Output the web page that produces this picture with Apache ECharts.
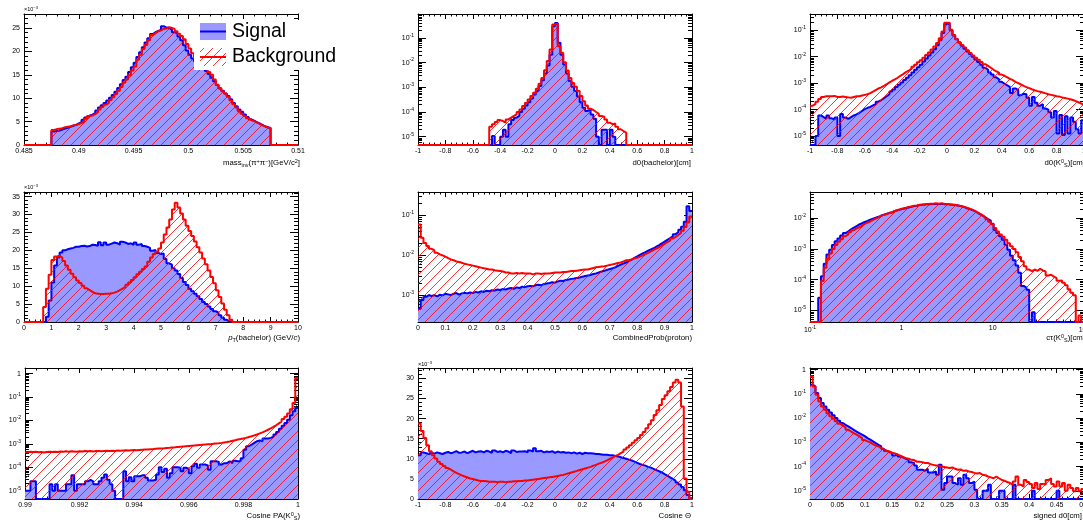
<!DOCTYPE html>
<html>
<head>
<meta charset="utf-8">
<script src="https://cdn.jsdelivr.net/npm/echarts@6.0.0/dist/echarts.min.js"></script>
<style>
  html, body { margin: 0; padding: 0; background: #fff; }
  #chart { width: 1083px; height: 525px; }
</style>
</head>
<body>
<div id="chart"></div>
<script>
// ---------------- histogram contents (100 bins per panel) ----------------

// mass_inv(pi+ pi-), units of 1e-3, first stored bin = 10
const massFirstBin = 10;
const massSig = [2.9,3.0,3.1,3.3,3.5,3.7,3.9,4.1,4.3,4.6, 4.9,5.4,5.9,6.3,6.5,6.9,7.4,8.0,8.5,9.0,
  9.5,10.1,10.7,11.4,12.2,13.0,13.9,14.6,15.6,16.6, 17.6,18.8,19.8,20.9,21.9,22.8,23.7,24.1,24.4,24.6,
  25.4,25.1,25.0,24.6,24.1,23.9,23.2,22.4,21.3,20.2, 19.3,18.5,17.9,17.4,17.0,16.4,15.8,15.2,14.4,13.6,
  12.8,12.1,11.6,11.0,10.5,9.8,9.0,8.3,7.6,7.1, 6.5,6.0,5.5,5.2,4.9,4.6,4.3,4.0,3.8,3.6];
const massBkg = [3.2,3.4,3.5,3.6,3.8,3.9,4.0,4.2,4.3,4.5, 4.7,5.0,5.6,6.2,6.3,6.6,7.0,7.6,8.1,8.6,
  9.0,9.6,10.2,10.9,11.6,12.4,13.3,14.0,14.9,15.9, 16.8,18.2,19.3,20.5,21.4,22.4,23.5,23.9,24.3,24.5,
  24.8,24.9,25.2,25.0,24.8,24.3,23.8,23.3,22.6,21.6, 20.6,19.6,18.6,18.0,17.4,16.9,16.3,15.6,15.0,14.0,
  12.9,12.2,11.5,11.0,10.3,9.5,8.7,8.0,7.2,6.7, 6.2,5.7,5.3,5.1,4.8,4.5,4.2,4.0,3.7,3.7];

// d0(bachelor)
const d0BachSigFirst = 27;
const d0BachSig = [1.07e-5,0,0,1.0e-5,1.9e-5,1.0e-5,3.2e-5,4.7e-5,5.9e-5,6.9e-5,
  1.0e-4,1.35e-4,1.85e-4,2.5e-4,3.5e-4,5.1e-4,7.0e-4,1.12e-3,1.95e-3,3.6e-3,
  7.6e-3,0.021,0.30,0.40,0.063,0.021,8.4e-3,3.6e-3,1.8e-3,1.05e-3,
  7.0e-4,4.2e-4,2.5e-4,1.5e-4,1.1e-4,1.26e-4,8.0e-5,5.3e-5,1.0e-5,0,
  1.9e-5,1.9e-5,0,1.9e-5,1.0e-5];
const d0BachBkgFirst = 26;
const d0BachBkg = [2.5e-5,3.2e-5,3.9e-5,4.7e-5,4.3e-5,3.7e-5,5.0e-5,5.9e-5,6.9e-5,8.0e-5,
  1.0e-4,1.26e-4,1.73e-4,2.3e-4,3.2e-4,4.4e-4,6.0e-4,8.7e-4,1.4e-3,2.4e-3,
  4.9e-3,0.0115,0.034,0.35,0.38,0.046,0.025,0.0104,4.8e-3,2.4e-3,
  1.5e-3,1.05e-3,7.0e-4,4.4e-4,2.7e-4,1.85e-4,1.35e-4,1.2e-4,1.0e-4,8.5e-5,
  6.9e-5,6.5e-5,5.0e-5,3.7e-5,3.2e-5,3.4e-5,2.5e-5,2.0e-5,1.7e-5,1.45e-5];

// d0(K0S)
const d0K0Sig = [0,0,1.0e-5,6.0e-5,5.2e-5,4.5e-5,6.0e-5,4.7e-5,4.2e-5,5.0e-5,
  1.0e-5,6.9e-5,5.0e-5,4.5e-5,5.2e-5,6.0e-5,6.6e-5,7.6e-5,8.9e-5,1.05e-4,
  1.17e-4,1.26e-4,1.45e-4,1.66e-4,2.0e-4,2.3e-4,2.7e-4,3.2e-4,3.8e-4,4.8e-4,
  5.8e-4,7.1e-4,8.7e-4,1.05e-3,1.32e-3,1.6e-3,2.0e-3,2.5e-3,3.2e-3,4.0e-3,
  5.0e-3,6.6e-3,8.5e-3,0.011,0.0145,0.019,0.027,0.042,0.079,0.17,
  0.18,0.10,0.063,0.046,0.034,0.026,0.020,0.0158,0.0126,0.010,
  7.9e-3,6.3e-3,5.0e-3,3.8e-3,3.2e-3,2.5e-3,2.1e-3,1.66e-3,1.4e-3,1.12e-3,
  9.5e-4,8.3e-4,7.1e-4,4.2e-4,6.3e-4,5.6e-4,3.5e-4,4.0e-4,3.8e-4,2.8e-4,
  1.4e-4,3.0e-4,1.8e-4,1.4e-4,1.6e-4,1.1e-4,1.0e-4,7.9e-5,5.0e-5,8.9e-5,
  1.26e-5,6.3e-5,1.1e-5,5.6e-5,1.26e-5,5.0e-5,3.5e-5,1.8e-5,1.26e-5,4.0e-5];
const d0K0Bkg = [1.4e-4,1.6e-4,2.0e-4,2.5e-4,3.0e-4,3.2e-4,3.2e-4,3.2e-4,3.3e-4,3.0e-4,
  3.0e-4,3.1e-4,3.0e-4,2.9e-4,2.8e-4,3.0e-4,3.2e-4,3.2e-4,3.4e-4,3.6e-4,
  3.8e-4,4.2e-4,4.8e-4,5.5e-4,6.3e-4,6.9e-4,7.9e-4,9.1e-4,1.07e-3,1.23e-3,
  1.38e-3,1.6e-3,1.9e-3,2.2e-3,2.6e-3,3.0e-3,3.5e-3,4.2e-3,5.0e-3,6.2e-3,
  7.4e-3,9.1e-3,0.0115,0.0145,0.0186,0.024,0.033,0.050,0.089,0.19,
  0.19,0.105,0.066,0.047,0.035,0.0275,0.022,0.0174,0.0138,0.0112,
  9.1e-3,7.6e-3,6.3e-3,5.2e-3,4.5e-3,3.8e-3,3.2e-3,2.8e-3,2.5e-3,2.1e-3,
  1.9e-3,1.66e-3,1.45e-3,1.29e-3,1.12e-3,1.0e-3,8.9e-4,7.9e-4,7.1e-4,6.5e-4,
  5.9e-4,5.4e-4,5.0e-4,4.7e-4,4.4e-4,4.1e-4,3.8e-4,3.6e-4,3.4e-4,3.2e-4,
  3.1e-4,2.9e-4,2.75e-4,2.6e-4,2.45e-4,2.3e-4,2.1e-4,1.9e-4,1.7e-4,1.5e-4];

// pT(bachelor), units of 1e-3
const ptSigFirst = 8;
const ptSig = [1.5,6.0,11.0,15.8,18.0,19.4,20.0,20.3,20.5,20.7,
  21.0,21.0,21.2,21.3,21.1,21.2,21.6,21.5,21.3,22.3,
  21.4,22.2,21.6,21.9,22.2,22.0,21.6,22.4,22.2,21.8,
  22.0,21.5,22.2,21.6,21.8,21.2,21.0,20.7,19.9,20.1,
  19.3,19.0,19.1,17.6,16.4,16.0,15.0,14.4,13.4,12.3,
  11.2,10.3,9.3,8.6,7.9,7.2,6.4,5.6,5.0,4.3,
  3.6,3.0,2.6,1.9,1.2,0.6,0.2];
const ptBkgFirst = 7;
const ptBkg = [4.2,9.3,13.2,17.3,18.3,18.5,18.0,17.0,15.8,14.6,
  13.5,12.5,11.6,10.9,10.1,9.4,8.9,8.4,8.0,7.9,
  7.8,7.8,7.9,7.9,8.0,8.2,8.5,8.9,9.3,9.8,
  10.4,11.0,11.7,12.5,13.3,14.0,14.8,15.5,16.8,18.0,
  19.0,19.6,20.5,22.2,24.4,26.4,28.6,31.4,33.3,32.0,
  30.3,28.6,26.9,25.4,24.0,22.5,20.9,19.4,17.7,16.1,
  14.4,12.6,10.8,8.9,7.0,5.2,3.4,1.9,0.6];

// CombinedProb(proton)
const probSig = [4.5e-4,7.5e-4,9.0e-4,1.0e-3,9.4e-4,1.0e-3,9.2e-4,1.02e-3,9.8e-4,1.08e-3,
  1.04e-3,1.0e-3,1.08e-3,1.12e-3,1.02e-3,1.1e-3,1.14e-3,1.1e-3,1.16e-3,1.12e-3,
  1.2e-3,1.16e-3,1.24e-3,1.2e-3,1.28e-3,1.25e-3,1.32e-3,1.3e-3,1.38e-3,1.34e-3,
  1.42e-3,1.38e-3,1.46e-3,1.5e-3,1.44e-3,1.56e-3,1.5e-3,1.62e-3,1.58e-3,1.66e-3,
  1.7e-3,1.66e-3,1.78e-3,1.82e-3,1.76e-3,1.9e-3,1.95e-3,2.0e-3,2.1e-3,2.05e-3,
  2.2e-3,2.3e-3,2.25e-3,2.4e-3,2.45e-3,2.55e-3,2.6e-3,2.7e-3,2.75e-3,2.9e-3,
  3.0e-3,3.1e-3,3.2e-3,3.4e-3,3.5e-3,3.7e-3,3.9e-3,4.1e-3,4.3e-3,4.5e-3,
  4.7e-3,5.0e-3,5.4e-3,5.8e-3,6.2e-3,6.6e-3,7.2e-3,7.8e-3,8.6e-3,9.4e-3,
  0.0103,0.0112,0.012,0.013,0.014,0.015,0.0165,0.018,0.020,0.022,
  0.0245,0.027,0.030,0.034,0.038,0.044,0.052,0.070,0.17,0.13];
const probBkg = [0.059,0.0275,0.0204,0.017,0.0145,0.0132,0.0115,0.0105,0.0099,0.0092,
  0.0085,0.0079,0.0075,0.0070,0.0068,0.0065,0.0061,0.0059,0.0057,0.0055,
  0.0053,0.0051,0.0049,0.0047,0.0046,0.0044,0.0044,0.0042,0.0041,0.0040,
  0.0039,0.0037,0.0037,0.0035,0.0035,0.0036,0.0035,0.0036,0.0035,0.0035,
  0.0035,0.0033,0.0035,0.0035,0.0034,0.0035,0.0035,0.0035,0.0036,0.0037,
  0.0037,0.0037,0.0038,0.0038,0.0039,0.0040,0.0040,0.0041,0.0042,0.0043,
  0.0044,0.0044,0.0046,0.0048,0.0050,0.0051,0.0052,0.0053,0.0055,0.0057,
  0.0059,0.0061,0.0064,0.0066,0.0070,0.0075,0.0076,0.0079,0.0084,0.0087,
  0.0092,0.0099,0.0107,0.0115,0.0125,0.0137,0.0148,0.0160,0.0176,0.0194,
  0.0213,0.0234,0.0263,0.029,0.0324,0.0363,0.0415,0.0513,0.067,0.094];

// c*tau(K0S), log-spaced bins from 0.1 to 100 cm
const ctauSigFirst = 3;
const ctauSig = [2.6e-5,1.3e-4,3.3e-4,6.6e-4,9.5e-4,1.35e-3,1.8e-3,2.2e-3,2.75e-3,3.3e-3,
  3.8e-3,4.4e-3,5.0e-3,5.6e-3,6.3e-3,6.9e-3,7.6e-3,8.2e-3,9.1e-3,9.8e-3,
  0.0105,0.0112,0.0123,0.0132,0.0141,0.0151,0.0158,0.0174,0.0182,0.0195,
  0.0204,0.0214,0.0224,0.024,0.025,0.0257,0.027,0.0275,0.028,0.029,
  0.029,0.0295,0.0295,0.029,0.0295,0.029,0.029,0.028,0.0275,0.027,
  0.026,0.025,0.024,0.0218,0.0204,0.019,0.0174,0.0155,0.0138,0.0123,
  0.0108,9.5e-3,8.4e-3,6.6e-3,4.2e-3,3.3e-3,2.6e-3,2.0e-3,1.38e-3,9.5e-4,
  6.0e-4,4.3e-4,2.9e-4,1.7e-4,6.3e-5,5.5e-5,4.7e-5,0,8.7e-6,0];
const ctauBkgFirst = 4;
const ctauBkg = [9.1e-5,2.45e-4,4.8e-4,7.1e-4,1.0e-3,1.35e-3,1.74e-3,2.1e-3,2.6e-3,3.0e-3,
  3.5e-3,4.1e-3,4.7e-3,5.1e-3,5.8e-3,6.6e-3,7.2e-3,7.9e-3,8.9e-3,9.8e-3,
  0.0107,0.012,0.0129,0.0138,0.0148,0.0158,0.0174,0.0186,0.020,0.021,
  0.022,0.0234,0.0245,0.0257,0.026,0.0275,0.028,0.029,0.0295,0.030,
  0.030,0.031,0.030,0.031,0.030,0.0295,0.029,0.028,0.0275,0.026,
  0.025,0.024,0.0224,0.021,0.0195,0.0178,0.0158,0.0141,0.0126,0.011,
  9.3e-3,7.8e-3,6.4e-3,4.8e-3,3.7e-3,3.0e-3,2.5e-3,2.0e-3,1.55e-3,1.23e-3,
  1.0e-3,7.8e-4,5.5e-4,4.0e-4,2.75e-4,2.15e-4,1.9e-4,2.15e-4,1.95e-4,2.25e-4,
  2.0e-4,1.85e-4,1.38e-4,1.45e-4,1.26e-4,1.12e-4,9.3e-5,9.5e-5,7.9e-5,6.6e-5,
  4.9e-5,3.8e-5,3.1e-5,0,6.8e-6];

// Cosine PA(K0S)
const cosPaSig = [1.0e-5,1.0e-5,2.5e-5,2.5e-5,0,0,0,0,0,1.9e-5,
  1.0e-5,1.9e-5,1.0e-5,1.0e-5,1.0e-5,1.9e-5,1.9e-5,4.5e-5,1.0e-5,1.9e-5,
  1.9e-5,1.9e-5,2.5e-5,2.9e-5,2.5e-5,1.9e-5,1.9e-5,2.5e-5,3.6e-5,4.9e-5,
  2.9e-5,1.9e-5,1.0e-5,0,0,0,6.7e-5,2.5e-5,3.7e-5,2.5e-5,
  4.1e-5,4.1e-5,4.5e-5,4.5e-5,3.6e-5,2.7e-5,2.7e-5,2.9e-5,4.9e-5,1.0e-4,
  6.3e-5,8.6e-5,3.6e-5,5.6e-5,1.0e-4,1.0e-4,9.5e-5,6.7e-5,9.5e-5,8.6e-5,
  5.6e-5,1.1e-4,1.4e-4,9.5e-5,1.3e-4,1.3e-4,1.2e-4,7.9e-5,1.8e-4,1.8e-4,
  1.7e-4,1.3e-4,1.5e-4,1.5e-4,1.8e-4,1.5e-4,1.9e-4,1.8e-4,1.8e-4,2.4e-4,
  5.6e-4,7.9e-4,9.3e-4,1.1e-3,1.3e-3,1.4e-3,1.3e-3,1.7e-3,1.7e-3,1.8e-3,
  2.0e-3,2.5e-3,3.2e-3,4.4e-3,6.0e-3,7.8e-3,0.0108,0.0166,0.0245,0.034];
const cosPaBkg = [4.4e-4,4.6e-4,4.5e-4,4.6e-4,4.4e-4,4.5e-4,4.3e-4,4.5e-4,4.6e-4,4.5e-4,
  4.6e-4,4.5e-4,4.7e-4,4.6e-4,4.8e-4,4.6e-4,4.8e-4,4.7e-4,4.6e-4,4.8e-4,
  4.7e-4,4.9e-4,4.8e-4,4.9e-4,4.7e-4,4.9e-4,5.0e-4,4.8e-4,5.0e-4,5.1e-4,
  5.0e-4,5.1e-4,5.0e-4,5.2e-4,5.1e-4,5.2e-4,5.3e-4,5.2e-4,5.3e-4,5.4e-4,
  5.3e-4,5.5e-4,5.6e-4,5.7e-4,5.8e-4,5.9e-4,6.0e-4,6.2e-4,6.3e-4,6.4e-4,
  6.5e-4,6.7e-4,6.8e-4,7.0e-4,7.1e-4,7.3e-4,7.5e-4,7.7e-4,7.9e-4,8.1e-4,
  8.3e-4,8.5e-4,8.7e-4,8.9e-4,9.1e-4,9.3e-4,9.5e-4,9.7e-4,1.0e-3,1.03e-3,
  1.06e-3,1.1e-3,1.15e-3,1.2e-3,1.27e-3,1.35e-3,1.43e-3,1.52e-3,1.6e-3,1.7e-3,
  1.8e-3,1.95e-3,2.1e-3,2.3e-3,2.5e-3,2.8e-3,3.1e-3,3.5e-3,4.0e-3,4.6e-3,
  5.3e-3,6.2e-3,7.5e-3,9.0e-3,0.0115,0.0145,0.02,0.03,0.056,0.65];

// Cosine Theta, units of 1e-3
const cosThetaSig = [10.9,11.6,11.4,11.2,11.5,11.3,11.6,11.4,11.2,11.5,
  11.7,11.4,11.6,11.9,11.5,11.6,11.8,11.4,11.7,12.0,
  11.6,11.8,11.9,11.6,12.0,11.8,11.5,12.1,11.7,11.9,
  11.6,12.0,11.8,11.4,12.1,11.7,11.8,11.8,11.9,11.6,
  12.1,11.8,12.6,11.9,12.0,11.6,11.8,11.7,11.9,11.5,
  11.8,11.6,11.7,11.5,11.6,11.4,11.6,11.3,11.5,11.2,
  11.5,11.4,11.4,11.3,11.2,11.2,11.1,11.0,11.0,10.9,
  10.9,10.7,10.6,10.4,10.2,10.0,9.8,9.6,9.3,9.0,
  8.7,8.5,8.3,8.0,7.8,7.5,7.2,6.9,6.6,6.2,
  5.8,5.4,5.0,4.6,4.1,3.6,3.0,2.2,1.0,0.2];
const cosThetaBkg = [18.8,16.9,15.2,13.4,11.9,10.9,10.1,9.3,8.7,8.2,
  7.7,7.3,6.9,6.5,6.2,5.9,5.6,5.4,5.1,5.0,
  4.8,4.6,4.5,4.5,4.4,4.3,4.3,4.3,4.2,4.3,
  4.3,4.2,4.3,4.3,4.4,4.4,4.5,4.5,4.6,4.6,
  4.7,4.8,4.9,5.0,5.1,5.2,5.3,5.4,5.5,5.6,
  5.7,5.9,6.0,6.2,6.4,6.6,6.8,7.0,7.2,7.4,
  7.6,7.8,8.0,8.3,8.5,8.8,9.0,9.3,9.6,10.0,
  10.3,10.7,11.0,11.4,11.8,12.3,12.8,13.4,14.0,14.6,
  15.2,15.9,16.7,17.6,18.6,19.6,20.9,22.1,23.4,24.9,
  25.8,26.8,27.9,29.0,29.7,29.0,23.0,5.1,1.8,0];

// signed d0
const signedD0Sig = [0.24,0.20,0.11,0.068,0.042,0.030,0.022,0.017,0.013,0.010,
  0.0078,0.0063,0.0053,0.0046,0.0039,0.0033,0.0028,0.0024,0.0021,0.0018,
  1.5e-3,1.3e-3,1.1e-3,9.3e-4,7.9e-4,6.8e-4,5.5e-4,4.5e-4,4.0e-4,3.6e-4,
  2.9e-4,3.3e-4,2.6e-4,2.4e-4,2.1e-4,1.9e-4,1.5e-4,1.4e-4,1.1e-4,7.4e-5,
  7.4e-5,6.7e-5,8.1e-5,5.7e-5,5.7e-5,6.3e-5,4.6e-5,1.2e-4,1.1e-5,2.1e-5,
  3.9e-5,3.9e-5,2.1e-5,1.8e-5,3.3e-5,1.8e-5,4.6e-5,3.3e-5,2.1e-5,2.4e-5,
  1.1e-5,0,0,1.0e-5,1.0e-5,1.8e-5,0,0,0,1.0e-5,
  1.0e-5,0,0,0,1.8e-5,0,0,0,0,0,
  0,1.0e-5,0,0,0,0,0,0,0,0,
  1.0e-5,0,0,0,0,0,0,0,0,0];
const signedD0Bkg = [0.53,0.20,0.093,0.049,0.030,0.022,0.016,0.012,0.0095,0.0074,
  0.0059,0.0049,0.0041,0.0033,0.0028,0.0024,0.0021,0.0018,0.0015,0.00124,
  1.1e-3,1.0e-3,8.5e-4,7.4e-4,6.8e-4,5.8e-4,5.1e-4,4.5e-4,4.2e-4,3.7e-4,
  3.5e-4,3.1e-4,2.8e-4,2.5e-4,2.2e-4,2.1e-4,1.9e-4,1.85e-4,1.6e-4,1.6e-4,
  1.5e-4,1.4e-4,1.4e-4,1.26e-4,1.18e-4,1.1e-4,1.1e-4,1.0e-4,9.7e-5,9.2e-5,
  8.7e-5,9.2e-5,8.1e-5,7.4e-5,7.6e-5,6.7e-5,6.9e-5,6.3e-5,6.0e-5,5.5e-5,
  5.2e-5,5.4e-5,4.6e-5,4.4e-5,3.9e-5,3.6e-5,3.3e-5,3.9e-5,3.3e-5,2.8e-5,
  2.6e-5,2.3e-5,2.1e-5,1.8e-5,2.4e-5,3.9e-5,1.8e-5,1.5e-5,2.8e-5,2.3e-5,
  1.9e-5,1.3e-5,2.1e-5,1.2e-5,1.9e-5,1.8e-5,2.8e-5,3.3e-5,1.9e-5,1.5e-5,
  2.4e-5,1.5e-5,2.1e-5,1.0e-5,1.8e-5,1.3e-5,9.5e-6,1.3e-5,9.5e-6,1.2e-5];

// ---------------- axis tick labels ----------------
const massXTicks = [0.485, 0.49, 0.495, 0.5, 0.505, 0.51];
const massYTicks = [0, 5, 10, 15, 20, 25];
const d0XTicks = [-1, -0.8, -0.6, -0.4, -0.2, 0, 0.2, 0.4, 0.6, 0.8, 1];
const d0YTicks = [1e-5, 1e-4, 1e-3, 1e-2, 1e-1];
const ptXTicks = [0, 1, 2, 3, 4, 5, 6, 7, 8, 9, 10];
const ptYTicks = [0, 5, 10, 15, 20, 25, 30, 35];
const probXTicks = [0, 0.1, 0.2, 0.3, 0.4, 0.5, 0.6, 0.7, 0.8, 0.9, 1];
const probYTicks = [1e-3, 1e-2, 1e-1];
const ctauXTicks = [0.1, 1, 10, 100];
const ctauYTicks = [1e-5, 1e-4, 1e-3, 1e-2];
const cosPaXTicks = [0.99, 0.992, 0.994, 0.996, 0.998, 1];
const cosPaYTicks = [1e-5, 1e-4, 1e-3, 1e-2, 1e-1, 1];
const cosThetaYTicks = [0, 5, 10, 15, 20, 25, 30];
const signedD0XTicks = [0, 0.05, 0.1, 0.15, 0.2, 0.25, 0.3, 0.35, 0.4, 0.45, 0.5];
const signedD0YTicks = [1e-5, 1e-4, 1e-3, 1e-2, 1e-1, 1];

// ---------------- styling ----------------
const FONT = 'Liberation Sans';
const SIG_LINE = '#0000ff';
const SIG_FILL = '#9999ff';
const BKG_LINE = '#ff0000';

function makeHatch() {
  const s = 9;
  const c = document.createElement('canvas');
  c.width = s; c.height = s;
  const g = c.getContext('2d');
  g.strokeStyle = 'rgba(255,0,0,0.8)';
  g.lineWidth = 1;
  for (const d of [-s, 0, s]) {
    g.beginPath();
    g.moveTo(d - 1, s + 1);
    g.lineTo(d + s + 1, -1);
    g.stroke();
  }
  return c;
}
const HATCH = { image: makeHatch(), repeat: 'repeat' };

const panels = [
  { left: 24, top: 14, height: 131,
    x: { min: 0.485, max: 0.51, majors: massXTicks, minorStep: 0.001 },
    y: { min: 0, max: 28, majors: massYTicks, minorStep: 1 },
    bins: { lo: 0.485, hi: 0.51, n: 100 },
    sig: [massFirstBin, massSig], bkg: [massFirstBin, massBkg] },
  { left: 418, top: 14, height: 131,
    x: { min: -1, max: 1, majors: d0XTicks, minorStep: 0.04 },
    y: { log: true, min: 4.6e-6, max: 0.93, majors: d0YTicks },
    bins: { lo: -1, hi: 1, n: 100 },
    sig: [d0BachSigFirst, d0BachSig], bkg: [d0BachBkgFirst, d0BachBkg] },
  { left: 810, top: 14, height: 131,
    x: { min: -1, max: 1, majors: d0XTicks, minorStep: 0.04 },
    y: { log: true, min: 4.6e-6, max: 0.41, majors: d0YTicks },
    bins: { lo: -1, hi: 1, n: 100 },
    sig: [0, d0K0Sig], bkg: [0, d0K0Bkg] },
  { left: 24, top: 192, height: 130,
    x: { min: 0, max: 10, majors: ptXTicks, minorStep: 0.2 },
    y: { min: 0, max: 36.3, majors: ptYTicks, minorStep: 1 },
    bins: { lo: 0, hi: 10, n: 100 },
    sig: [ptSigFirst, ptSig], bkg: [ptBkgFirst, ptBkg] },
  { left: 418, top: 192, height: 130,
    x: { min: 0, max: 1, majors: probXTicks, minorStep: 0.02 },
    y: { log: true, min: 2.1e-4, max: 0.39, majors: probYTicks },
    bins: { lo: 0, hi: 1, n: 100 },
    sig: [0, probSig], bkg: [0, probBkg] },
  { left: 810, top: 192, height: 130,
    x: { log: true, min: 0.1, max: 100, majors: ctauXTicks },
    y: { log: true, min: 4.2e-6, max: 0.072, majors: ctauYTicks },
    bins: { lo: 0.1, hi: 100, n: 100, log: true },
    sig: [ctauSigFirst, ctauSig], bkg: [ctauBkgFirst, ctauBkg] },
  { left: 25, top: 368, height: 131, width: 273,
    x: { min: 0.99, max: 1, majors: cosPaXTicks, minorStep: 0.0004 },
    y: { log: true, min: 4.4e-6, max: 1.74, majors: cosPaYTicks },
    bins: { lo: 0.99, hi: 1, n: 100 },
    sig: [0, cosPaSig], bkg: [0, cosPaBkg] },
  { left: 418, top: 368, height: 131,
    x: { min: -1, max: 1, majors: d0XTicks, minorStep: 0.04 },
    y: { min: 0, max: 32.6, majors: cosThetaYTicks, minorStep: 1 },
    bins: { lo: -1, hi: 1, n: 100 },
    sig: [0, cosThetaSig], bkg: [0, cosThetaBkg] },
  { left: 810, top: 368, height: 131,
    x: { min: 0, max: 0.5, majors: signedD0XTicks, minorStep: 0.01 },
    y: { log: true, min: 4.6e-6, max: 1.17, majors: signedD0YTicks },
    bins: { lo: 0, hi: 0.5, n: 100 },
    sig: [0, signedD0Sig], bkg: [0, signedD0Bkg] }
];

// ---------------- helpers ----------------
function linMinors(min, max, step) {
  const out = [];
  const k0 = Math.ceil(min / step - 1e-7), k1 = Math.floor(max / step + 1e-7);
  for (let k = k0; k <= k1; k++) out.push(+(k * step).toFixed(10));
  return out;
}
function logMinors(min, max) {
  const out = [];
  for (let p = Math.floor(Math.log10(min)); p <= Math.ceil(Math.log10(max)); p++) {
    for (let m = 2; m <= 9; m++) {
      const v = m * Math.pow(10, p);
      if (v >= min && v <= max) out.push(v);
    }
  }
  return out;
}
function numLabel(v) { return String(+(+v).toFixed(6)); }
function powLabel(v) {
  const e = Math.round(Math.log10(v));
  if (e === 0) return '1';
  if (e === 1) return '10';
  return '{b|10}{e|' + e + '}';
}
const AXIS_RICH = {
  b: { fontSize: 7, fontFamily: FONT, color: '#000' },
  e: { fontSize: 5, fontFamily: FONT, color: '#000', padding: [0, 0, 5, 0] }
};

function makeAxis(g, s, position, vertical, major, labelled) {
  const minors = s.log ? logMinors(s.min, s.max) : linMinors(s.min, s.max, s.minorStep);
  const len = vertical ? (major ? 8 : 4) : (major ? 5 : 2.5);
  return {
    gridIndex: g,
    type: s.log ? 'log' : 'value',
    logBase: 10,
    min: s.min, max: s.max,
    position: position,
    axisLine: { show: major, onZero: false, lineStyle: { color: '#000', width: 1 } },
    axisTick: { show: true, inside: true, length: len,
      customValues: major ? s.majors : minors,
      lineStyle: { color: '#000', width: 1 } },
    axisLabel: labelled ? {
      show: true, customValues: s.majors,
      formatter: s.log ? powLabel : numLabel,
      margin: vertical ? 4 : 3, fontSize: 7, fontFamily: FONT, color: '#000',
      rich: AXIS_RICH
    } : { show: false },
    splitLine: { show: false }, splitArea: { show: false },
    minorTick: { show: false }, minorSplitLine: { show: false },
    silent: true
  };
}

function binEdge(b, i) {
  return b.log ? b.lo * Math.pow(b.hi / b.lo, i / b.n) : b.lo + (b.hi - b.lo) * i / b.n;
}
function histData(b, first, vals, floor) {
  const pts = [];
  let last = floor;
  for (let i = 0; i < b.n; i++) {
    const k = i - first;
    const v = (k >= 0 && k < vals.length) ? vals[k] : 0;
    last = Math.max(v, floor);
    pts.push([binEdge(b, i), last]);
  }
  pts.push([binEdge(b, b.n), last]);
  return pts;
}
function histSeries(idx, p, h, floor, isBkg) {
  return {
    type: 'line', name: isBkg ? 'Background' : 'Signal',
    xAxisIndex: idx, yAxisIndex: idx,
    data: histData(p.bins, h[0], h[1], floor),
    step: 'end', symbol: 'none', showSymbol: false,
    lineStyle: { color: isBkg ? BKG_LINE : SIG_LINE, width: 2 },
    itemStyle: { color: isBkg ? BKG_LINE : SIG_LINE },
    areaStyle: { color: isBkg ? HATCH : SIG_FILL, opacity: 1, origin: 'start' },
    emphasis: { disabled: true }, silent: true, clip: true,
    z: isBkg ? 3 : 2
  };
}

const grids = [], xAxes = [], yAxes = [], series = [];
panels.forEach((p, g) => {
  grids.push({ left: p.left, top: p.top, width: p.width || 274, height: p.height,
    containLabel: false, outerBoundsMode: 'none', show: false });
  xAxes.push(makeAxis(g, p.x, 'bottom', false, true, true));
  xAxes.push(makeAxis(g, p.x, 'top', false, true, false));
  xAxes.push(makeAxis(g, p.x, 'bottom', false, false, false));
  xAxes.push(makeAxis(g, p.x, 'top', false, false, false));
  yAxes.push(makeAxis(g, p.y, 'left', true, true, true));
  yAxes.push(makeAxis(g, p.y, 'right', true, true, false));
  yAxes.push(makeAxis(g, p.y, 'left', true, false, false));
  yAxes.push(makeAxis(g, p.y, 'right', true, false, false));
  const floor = p.y.log ? p.y.min : 0;
  series.push(histSeries(4 * g, p, p.sig, floor, false));
  series.push(histSeries(4 * g, p, p.bkg, floor, true));
});

// ---------------- axis titles, exponent marks, legend ----------------
const TITLE_RICH = {
  sub: { fontSize: 5.5, fontFamily: FONT, fill: '#000', padding: [4, 0, 0, 0] },
  sup: { fontSize: 5.5, fontFamily: FONT, fill: '#000', padding: [0, 0, 4, 0] },
  it: { fontSize: 7.8, fontFamily: FONT, fontStyle: 'italic', fill: '#000' }
};
function title(text, right, y) {
  return { type: 'text', x: right, y: y, z: 50,
    style: { text: text, align: 'right', verticalAlign: 'middle', fontSize: 7.8,
      fontFamily: FONT, fill: '#000', rich: TITLE_RICH } };
}
function expMark(x, y) {
  return { type: 'text', x: x, y: y, z: 50,
    style: { text: '×10{sup|−3}', align: 'left', verticalAlign: 'middle', fontSize: 5.5,
      fontFamily: FONT, fill: '#000',
      rich: { sup: { fontSize: 4, fontFamily: FONT, fill: '#000', padding: [0, 0, 3, 0] } } } };
}

const graphics = [
  title('mass{sub|inv}(π{sup|+}π{sup|−})[GeV/c{sup|2}]', 300, 163),
  title('d0(bachelor)[cm]', 691, 163),
  title('d0(K{sup|0}{sub|S})[cm]', 1085, 163),
  title('{it|p}{sub|T}(bachelor) (GeV/{it|c})', 300, 338),
  title('CombinedProb(proton)', 692, 338),
  title('cτ(K{sup|0}{sub|S})[cm]', 1085, 338),
  title('Cosine PA(K{sup|0}{sub|S})', 300, 516),
  title('Cosine Θ', 691, 516),
  title('signed d0[cm]', 1082, 516),
  expMark(24, 9), expMark(24, 187), expMark(418, 364),
  // legend
  { type: 'rect', z: 100, shape: { x: 194, y: 20, width: 150, height: 50 }, style: { fill: '#fff' } },
  { type: 'rect', z: 101, shape: { x: 200, y: 23, width: 26, height: 17 }, style: { fill: SIG_FILL } },
  { type: 'line', z: 102, shape: { x1: 200, y1: 31.5, x2: 226, y2: 31.5 }, style: { stroke: SIG_LINE, lineWidth: 2 } },
  { type: 'rect', z: 101, shape: { x: 200, y: 48, width: 26, height: 18 }, style: { fill: HATCH } },
  { type: 'line', z: 102, shape: { x1: 200, y1: 57, x2: 226, y2: 57 }, style: { stroke: BKG_LINE, lineWidth: 2 } },
  { type: 'text', z: 102, x: 232, y: 31.5,
    style: { text: 'Signal', fontSize: 19.5, fontFamily: FONT, fill: '#000', verticalAlign: 'middle' } },
  { type: 'text', z: 102, x: 232, y: 57,
    style: { text: 'Background', fontSize: 19.5, fontFamily: FONT, fill: '#000', verticalAlign: 'middle' } }
];

const chart = echarts.init(document.getElementById('chart'), null, { renderer: 'canvas', width: 1083, height: 525 });
chart.setOption({
  animation: false,
  backgroundColor: '#fff',
  textStyle: { fontFamily: FONT },
  grid: grids,
  xAxis: xAxes,
  yAxis: yAxes,
  series: series,
  graphic: graphics
});
</script>
</body>
</html>
